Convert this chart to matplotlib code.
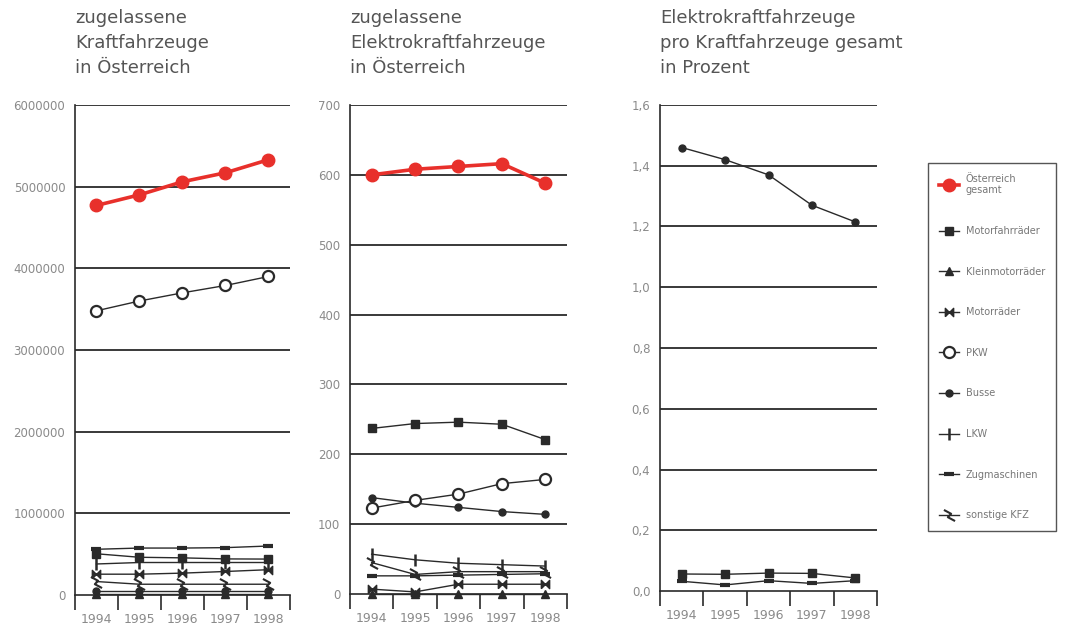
import numpy as np
import matplotlib
matplotlib.use("Agg")
import matplotlib.pyplot as plt
from matplotlib.path import Path
from matplotlib.lines import Line2D

plt.rcParams['font.family'] = ['DejaVu Sans']

years = ["1994", "1995", "1996", "1997", "1998"]

# zugelassene Kraftfahrzeuge in Oesterreich
kfzGesamt = [4770000, 4900000, 5060000, 5170000, 5330000]
kfzMotorfahrraeder = [505000, 462000, 455000, 442000, 440000]
kfzKleinmotorraeder = [8000, 8000, 8000, 8000, 8000]
kfzMotorraeder = [255000, 255000, 268000, 288000, 310000]
kfzPkw = [3480000, 3600000, 3700000, 3790000, 3900000]
kfzBusse = [50000, 50000, 50000, 50000, 50000]
kfzLkw = [380000, 398000, 398000, 398000, 398000]
kfzZugmaschinen = [560000, 575000, 575000, 580000, 600000]
kfzSonstige = [165000, 132000, 132000, 132000, 132000]

# zugelassene Elektrokraftfahrzeuge in Oesterreich
elGesamt = [600, 608, 612, 616, 588]
elMotorfahrraeder = [237, 244, 246, 243, 221]
elKleinmotorraeder = [0, 0, 0, 0, 0]
elMotorraeder = [7, 3, 14, 14, 14]
elPkw = [123, 134, 143, 158, 164]
elBusse = [138, 130, 124, 118, 114]
elLkw = [57, 49, 44, 42, 40]
elZugmaschinen = [26, 26, 27, 28, 29]
elSonstige = [45, 28, 32, 32, 32]

# Elektrokraftfahrzeuge pro Kraftfahrzeuge gesamt in Prozent
pctBusse = [1.46, 1.42, 1.37, 1.27, 1.215]
pctMotorfahrraeder = [0.056, 0.055, 0.059, 0.058, 0.043]
pctZugmaschinen = [0.032, 0.02, 0.034, 0.025, 0.034]

labels = ["Österreich\ngesamt", "Motorfahrräder", "Kleinmotorräder", "Motorräder",
          "PKW", "Busse", "LKW", "Zugmaschinen", "sonstige KFZ"]

bowtie = Path([(-1, -1), (-1, 1), (1, -1), (1, 1), (-1, -1)])
zigzag = Path([(-1, 1), (0.3, 0.3), (-0.3, -0.3), (1, -1)],
              [Path.MOVETO, Path.LINETO, Path.LINETO, Path.LINETO])

ink = "#2a2a2a"
styles = [
    dict(color="#e8302b", marker="o", ms=9, lw=2.6, mec="#e8302b"),
    dict(color=ink, marker="s", ms=6, lw=1.0),
    dict(color=ink, marker="^", ms=6, lw=1.0),
    dict(color=ink, marker=bowtie, ms=6, lw=1.0),
    dict(color=ink, marker="o", ms=8, lw=1.0, mfc="white", mew=1.6),
    dict(color=ink, marker="o", ms=5, lw=1.0),
    dict(color=ink, marker="|", ms=8, lw=1.0, mew=1.8),
    dict(color=ink, marker="_", ms=7, lw=1.0, mew=3),
    dict(color=ink, marker=zigzag, ms=8, lw=1.0, mfc="none", mew=1.5),
]

textGray = "#555555"
tickGray = "#8a8a8a"

fig = plt.figure(figsize=(10.65, 6.26), dpi=100)


def setupAxes(rect, ymax, ystep, xmax, fmt):
	ax = fig.add_axes(rect)
	ax.set_xlim(-0.5, xmax)
	ax.set_ylim(0, ymax)
	for s in ["top", "right"]:
		ax.spines[s].set_visible(False)
	ax.spines["left"].set_color(ink)
	ax.spines["bottom"].set_color(ink)
	ax.spines["left"].set_linewidth(1.2)
	ax.spines["bottom"].set_linewidth(1.2)
	yt = np.arange(0, ymax + ystep / 2, ystep)
	ax.set_yticks(yt)
	ax.set_yticklabels([fmt(v) for v in yt])
	for v in yt[1:]:
		ax.axhline(v, color=ink, lw=1.3, zorder=1)
	ax.tick_params(axis="y", length=0, pad=7, labelsize=8.5, labelcolor=tickGray)
	ax.set_xticks(range(5))
	ax.set_xticklabels(years)
	ax.tick_params(axis="x", which="major", length=0, pad=13, labelsize=9, labelcolor=tickGray)
	ax.set_xticks(np.arange(-0.5, 4.6, 1), minor=True)
	ax.tick_params(axis="x", which="minor", length=11, width=1.2, color=ink, direction="out")
	return ax


x = np.arange(5)

ax1 = setupAxes([0.0704, 0.0495, 0.2019, 0.7828], 6000000, 1000000, 4.5, lambda v: "%d" % v)
kfz = [kfzGesamt, kfzMotorfahrraeder, kfzKleinmotorraeder, kfzMotorraeder, kfzPkw,
       kfzBusse, kfzLkw, kfzZugmaschinen, kfzSonstige]
for vals, st in reversed(list(zip(kfz, styles))):
	ax1.plot(x, vals, clip_on=False, zorder=3, **st)

ax2 = setupAxes([0.3286, 0.0511, 0.2038, 0.7812], 700, 100, 4.2, lambda v: "%d" % v)
el = [elGesamt, elMotorfahrraeder, elKleinmotorraeder, elMotorraeder, elPkw,
      elBusse, elLkw, elZugmaschinen, elSonstige]
for vals, st in reversed(list(zip(el, styles))):
	ax2.plot(x, vals, clip_on=False, zorder=3, **st)

ax3 = setupAxes([0.6197, 0.0559, 0.2038, 0.7764], 1.6, 0.2, 3.84,
                lambda v: ("%.1f" % v).replace(".", ","))
ax3.plot(x, pctBusse, clip_on=False, zorder=3, **styles[5])
ax3.plot(x, pctZugmaschinen, clip_on=False, zorder=3, **styles[7])
ax3.plot(x, pctMotorfahrraeder, clip_on=False, zorder=3, **styles[1])

titles = ["zugelassene\nKraftfahrzeuge\nin Österreich",
          "zugelassene\nElektrokraftfahrzeuge\nin Österreich",
          "Elektrokraftfahrzeuge\npro Kraftfahrzeuge gesamt\nin Prozent"]
for tx, t in zip([75, 350, 660], titles):
	fig.text(tx / 1065, 1 - 9 / 626, t, ha="left", va="top", fontsize=13,
	         color=textGray, linespacing=1.5)

handles = [Line2D([], [], **st) for st in styles]
leg = fig.legend(handles, labels, loc="upper left",
                 bbox_to_anchor=(928 / 1065, 1 - 163 / 626),
                 fontsize=7, labelspacing=3.15, handlelength=2.1,
                 borderpad=1.1, handletextpad=0.7, frameon=True, fancybox=False,
                 borderaxespad=0)
leg.get_frame().set_edgecolor(ink)
leg.get_frame().set_linewidth(1.0)
for t in leg.get_texts():
	t.set_color("#777777")

fig.savefig("out.png", dpi=100)
